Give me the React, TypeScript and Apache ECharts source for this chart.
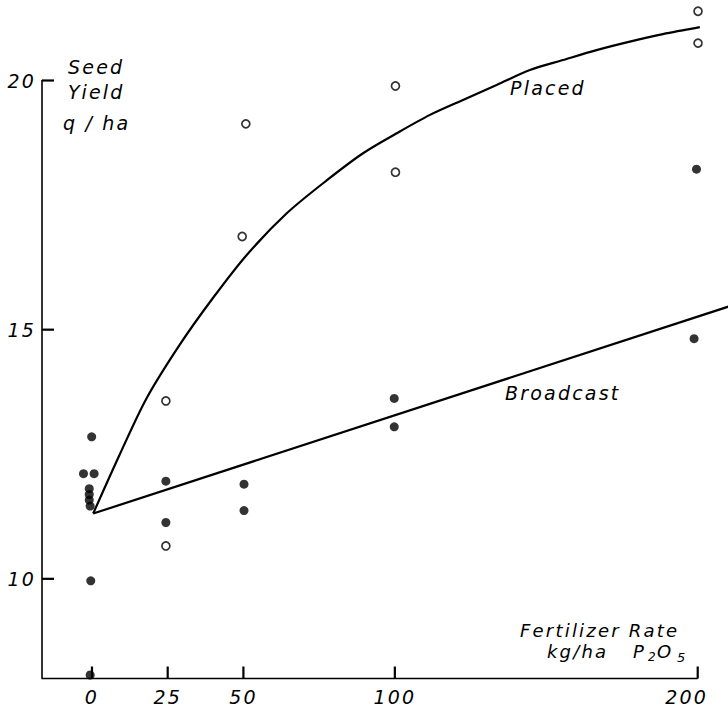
import React, { useEffect, useRef } from "react";
import * as echarts from "echarts";

// Tick values
const xTickValues = [0, 25, 50, 100, 200];
const yTickValues = [10, 15, 20];

// Broadcast (filled circles): rate (kg/ha P2O5, small offsets as drawn) and seed yield (q/ha)
const broadcastRate = [-0.1, -2.8, 0.7, -0.9, -0.9, -0.9, -0.6, -0.4, -0.6, 24.4, 24.4, 50.2, 50.2, 99.8, 99.8, 199.6, 198.8];
const broadcastYield = [12.85, 12.11, 12.11, 11.81, 11.69, 11.58, 11.46, 9.96, 8.07, 11.96, 11.13, 11.9, 11.37, 13.62, 13.05, 18.22, 14.82];

// Placed (open circles)
const placedRate = [24.4, 24.4, 50.8, 49.6, 100.2, 100.2, 200.1, 200.1];
const placedYield = [13.57, 10.66, 19.13, 16.87, 19.89, 18.16, 21.39, 20.75];

// Fitted curve for placed
const placedCurveRate = [0.4, 9.2, 18.0, 29.0, 40.0, 51.1, 64.4, 77.6, 89.5, 100.6, 111.6, 122.5, 133.6, 144.6, 155.5, 166.6, 177.6, 188.5, 200.7];
const placedCurveYield = [11.31, 12.5, 13.62, 14.7, 15.64, 16.5, 17.34, 18.0, 18.54, 18.94, 19.31, 19.61, 19.91, 20.21, 20.41, 20.61, 20.78, 20.93, 21.07];

// Fitted straight line for broadcast
const broadcastLineRate = [0.4, 212];
const broadcastLineYield = [11.31, 15.5];

// Axis extents
const xMin = -16.5;
const xMax = 210;
const xAxisEnd = 200;
const yMin = 8;
const yMax = 20;

const zip = (a: number[], b: number[]) => a.map((v, i) => [v, b[i]]);

const FONT = "DejaVu Sans";
const W = 728;
const H = 708;
const GRID = { left: 42, right: 0, top: 80.5, bottom: 29.5 };
const TICK_PX = 12;

export default function App() {
  const ref = useRef<HTMLDivElement>(null);
  useEffect(() => {
    document.body.style.margin = "0";
    if (!ref.current) return;
    const chart = echarts.init(ref.current, null, { renderer: "svg" });
    const txt = (text: string, x: number, y: number, size = 19) => ({
      type: "text",
      x,
      y,
      style: {
        text,
        fill: "#000",
        font: `italic ${size}px "${FONT}"`,
        textAlign: "left",
        textVerticalAlign: "middle",
      },
    });
    const xUnitsPerPx = (xMax - xMin) / (W - GRID.left - GRID.right);
    const yUnitsPerPx = (yMax - yMin) / (H - GRID.top - GRID.bottom);
    const segment = (data: number[][]) => ({
      type: "line",
      data,
      symbol: "none",
      clip: false,
      lineStyle: { color: "#000000", width: 2.2, opacity: 1 },
      itemStyle: { color: "#000000" },
      z: 6,
    });
    const yTicks = yTickValues.map((v) =>
      segment([
        [xMin, v],
        [xMin + TICK_PX * xUnitsPerPx, v],
      ])
    );
    const xTicks = xTickValues.map((v) =>
      segment([
        [v, yMin],
        [v, yMin + TICK_PX * yUnitsPerPx],
      ])
    );
    chart.setOption({
      animation: false,
      backgroundColor: "#fff",
      grid: {
        ...GRID,
        containLabel: false,
        outerBoundsMode: "none",
      },
      xAxis: {
        type: "value",
        min: xMin,
        max: xMax,
        splitLine: { show: false },
        axisLine: { show: false },
        axisTick: { show: false },
        axisLabel: {
          show: true,
          customValues: xTickValues,
          margin: 9,
          color: "#000",
          fontSize: 19,
          fontStyle: "italic",
          fontFamily: FONT,
          formatter: (v: number) => (v === 200 ? "{r|200}" : String(v)),
          rich: {
            r: {
              padding: [0, 22, 0, 0],
              color: "#000",
              fontSize: 19,
              fontStyle: "italic",
              fontFamily: FONT,
            },
          },
        },
      },
      yAxis: {
        type: "value",
        min: yMin,
        max: yMax,
        splitLine: { show: false },
        axisLine: { show: true, onZero: false, lineStyle: { color: "#000", width: 1.6 } },
        axisTick: { show: false },
        axisLabel: {
          show: true,
          customValues: yTickValues,
          margin: 6,
          color: "#000",
          fontSize: 19,
          fontStyle: "italic",
          fontFamily: FONT,
        },
      },
      series: [
        {
          type: "line",
          name: "x-axis",
          data: [
            [xMin, yMin],
            [xAxisEnd, yMin],
          ],
          showSymbol: false,
          clip: false,
          silent: true,
          lineStyle: { color: "#000", width: 1.6 },
          z: 1,
        },
        {
          type: "line",
          name: "Placed",
          data: zip(placedCurveRate, placedCurveYield),
          smooth: 0.3,
          showSymbol: false,
          clip: false,
          lineStyle: { color: "#000", width: 2.2 },
          z: 2,
        },
        {
          type: "line",
          name: "Broadcast",
          data: zip(broadcastLineRate, broadcastLineYield),
          showSymbol: false,
          clip: false,
          lineStyle: { color: "#000", width: 2.2 },
          z: 2,
        },
        {
          type: "scatter",
          data: zip(broadcastRate, broadcastYield),
          symbol: "circle",
          symbolSize: 9,
          clip: false,
          itemStyle: { color: "#000" },
          z: 3,
        },
        {
          type: "scatter",
          data: zip(placedRate, placedYield),
          symbol: "circle",
          symbolSize: 8,
          clip: false,
          itemStyle: { color: "#fff", borderColor: "#000", borderWidth: 1.7 },
          z: 3,
        },
        ...yTicks,
        ...xTicks,
      ],
      graphic: [
        txt("Seed", 68, 67.4),
        txt("Yield", 68, 92.4),
        txt("q / ha", 63, 123.4),
        txt("Placed", 510, 88.4),
        txt("Broadcast", 505, 393.4),
        txt("Fertilizer Rate", 520, 630, 18),
        txt("kg/ha", 547, 651, 18),
        txt("P", 633, 651, 18),
        txt("2", 648, 657, 12),
        txt("O", 657, 651, 18),
        txt("5", 677, 657, 13),
      ],
    });
    return () => chart.dispose();
  }, []);
  return (
    <div
      ref={ref}
      style={{ width: W, height: H, letterSpacing: "2.2px" }}
    />
  );
}
